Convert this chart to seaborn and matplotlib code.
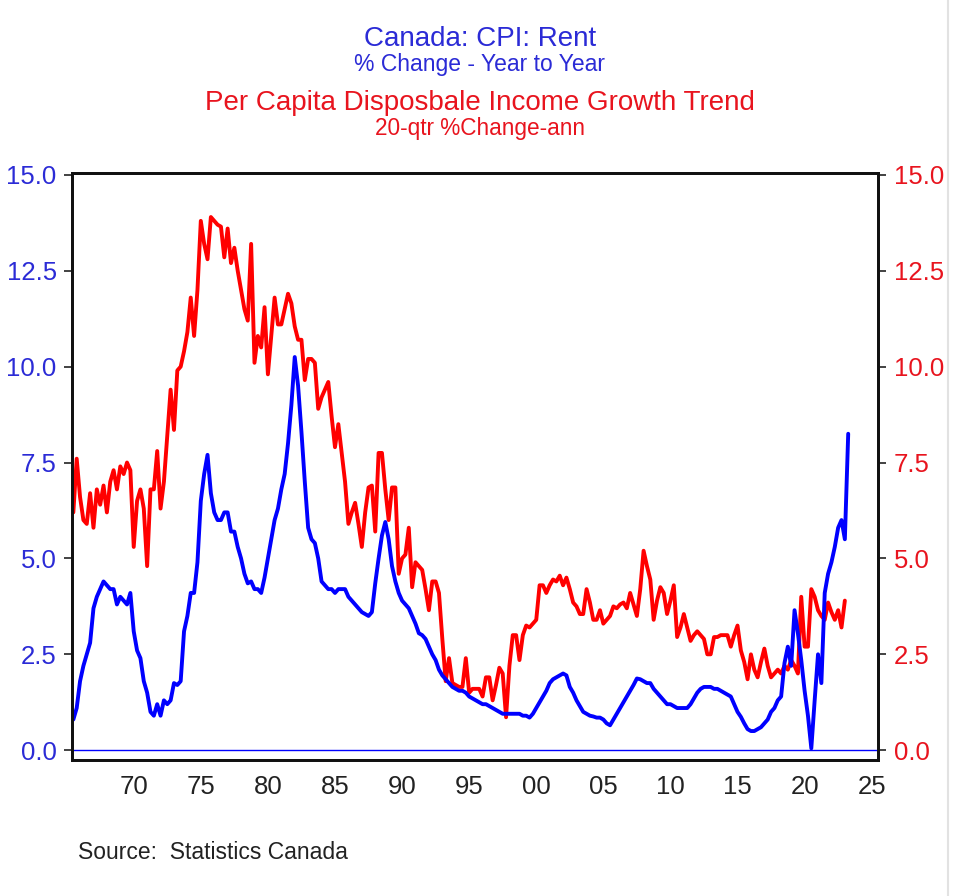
import numpy as np
import pandas as pd
import seaborn as sns
import matplotlib.pyplot as plt
import matplotlib.transforms as mtransforms
from matplotlib.lines import Line2D

# CPI rent, % change year to year (quarterly readings, 1966Q1 onward)
rent_values = [
    0.8, 1.1, 1.8, 2.2,      # 1966
    2.5, 2.8, 3.7, 4.0,      # 1967
    4.2, 4.4, 4.3, 4.2,      # 1968
    4.2, 3.8, 4.0, 3.9,      # 1969
    3.8, 4.1, 3.1, 2.6,      # 1970
    2.4, 1.8, 1.5, 1.0,      # 1971
    0.9, 1.2, 0.9, 1.3,      # 1972
    1.2, 1.3, 1.75, 1.7,     # 1973
    1.8, 3.1, 3.5, 4.1,      # 1974
    4.1, 4.9, 6.5, 7.2,      # 1975
    7.7, 6.7, 6.2, 6.0,      # 1976
    6.0, 6.2, 6.2, 5.7,      # 1977
    5.7, 5.3, 5.0, 4.6,      # 1978
    4.35, 4.4, 4.2, 4.2,     # 1979
    4.1, 4.5, 5.0, 5.5,      # 1980
    6.0, 6.3, 6.8, 7.2,      # 1981
    8.0, 9.0, 10.25, 9.5,    # 1982
    8.3, 7.0, 5.8, 5.5,      # 1983
    5.4, 5.0, 4.4, 4.3,      # 1984
    4.2, 4.2, 4.1, 4.2,      # 1985
    4.2, 4.2, 4.0, 3.9,      # 1986
    3.8, 3.7, 3.6, 3.55,     # 1987
    3.5, 3.6, 4.35, 5.0,     # 1988
    5.6, 5.95, 5.5, 4.8,     # 1989
    4.4, 4.1, 3.9, 3.8,      # 1990
    3.7, 3.5, 3.3, 3.05,     # 1991
    3.0, 2.9, 2.7, 2.5,      # 1992
    2.35, 2.1, 1.95, 1.85,   # 1993
    1.75, 1.65, 1.6, 1.55,   # 1994
    1.55, 1.5, 1.4, 1.35,    # 1995
    1.3, 1.25, 1.2, 1.2,     # 1996
    1.15, 1.1, 1.05, 1.0,    # 1997
    0.95, 0.95, 0.95, 0.95,  # 1998
    0.95, 0.95, 0.9, 0.9,    # 1999
    0.85, 0.95, 1.1, 1.25,   # 2000
    1.4, 1.55, 1.75, 1.85,   # 2001
    1.9, 1.95, 2.0, 1.95,    # 2002
    1.65, 1.5, 1.3, 1.15,    # 2003
    1.0, 0.95, 0.9, 0.88,    # 2004
    0.85, 0.85, 0.8, 0.7,    # 2005
    0.65, 0.8, 0.95, 1.1,    # 2006
    1.25, 1.4, 1.55, 1.7,    # 2007
    1.87, 1.85, 1.8, 1.75,   # 2008
    1.75, 1.6, 1.5, 1.4,     # 2009
    1.3, 1.2, 1.2, 1.15,     # 2010
    1.1, 1.1, 1.1, 1.1,      # 2011
    1.2, 1.35, 1.5, 1.6,     # 2012
    1.65, 1.65, 1.65, 1.6,   # 2013
    1.6, 1.55, 1.5, 1.45,    # 2014
    1.4, 1.2, 1.0, 0.87,     # 2015
    0.7, 0.55, 0.5, 0.5,     # 2016
    0.55, 0.6, 0.7, 0.8,     # 2017
    1.0, 1.1, 1.3, 1.4,      # 2018
    2.27, 2.7, 2.2, 3.65,    # 2019
    3.05, 2.35, 1.55, 0.9,   # 2020
    0.05, 1.3, 2.5, 1.75,    # 2021
    4.1, 4.6, 4.9, 5.3,      # 2022
    5.8, 6.0, 5.5, 8.25,     # 2023
]

# per capita disposable income growth trend, 20-qtr % change annualized
income_values = [
    6.2, 7.6, 6.6, 6.0,      # 1966
    5.9, 6.7, 5.8, 6.8,      # 1967
    6.4, 6.9, 6.2, 7.0,      # 1968
    7.3, 6.8, 7.4, 7.2,      # 1969
    7.5, 7.3, 5.3, 6.5,      # 1970
    6.8, 6.3, 4.8, 6.8,      # 1971
    6.8, 7.8, 6.3, 7.0,      # 1972
    8.2, 9.4, 8.35, 9.9,     # 1973
    10.0, 10.4, 10.9, 11.8,  # 1974
    10.8, 12.0, 13.8, 13.2,  # 1975
    12.8, 13.9, 13.8, 13.7,  # 1976
    13.65, 12.85, 13.6, 12.7,  # 1977
    13.1, 12.5, 12.0, 11.5,  # 1978
    11.2, 13.2, 10.1, 10.8,  # 1979
    10.5, 11.55, 9.8, 10.8,  # 1980
    11.8, 11.1, 11.1, 11.5,  # 1981
    11.9, 11.65, 11.05, 10.7,  # 1982
    10.7, 9.65, 10.2, 10.2,  # 1983
    10.1, 8.9, 9.2, 9.4,     # 1984
    9.6, 8.7, 7.9, 8.5,      # 1985
    7.75, 7.0, 5.9, 6.2,     # 1986
    6.45, 5.9, 5.3, 6.2,     # 1987
    6.85, 6.9, 5.7, 7.75,    # 1988
    7.75, 6.8, 6.0, 6.85,    # 1989
    6.85, 4.6, 5.0, 5.1,     # 1990
    5.8, 4.25, 4.9, 4.8,     # 1991
    4.7, 4.2, 3.65, 4.4,     # 1992
    4.4, 4.1, 2.9, 1.8,      # 1993
    2.4, 1.75, 1.7, 1.65,    # 1994
    1.65, 2.4, 1.5, 1.6,     # 1995
    1.6, 1.6, 1.4, 1.9,      # 1996
    1.9, 1.3, 1.7, 2.15,     # 1997
    2.0, 0.86, 2.2, 3.0,     # 1998
    3.0, 2.35, 3.0, 3.25,    # 1999
    3.2, 3.3, 3.4, 4.3,      # 2000
    4.3, 4.1, 4.3, 4.45,     # 2001
    4.4, 4.55, 4.3, 4.5,     # 2002
    4.2, 3.85, 3.75, 3.55,   # 2003
    3.55, 4.2, 3.85, 3.4,    # 2004
    3.4, 3.65, 3.3, 3.4,     # 2005
    3.5, 3.75, 3.7, 3.8,     # 2006
    3.85, 3.7, 4.1, 3.8,     # 2007
    3.5, 4.2, 5.2, 4.8,      # 2008
    4.45, 3.4, 3.9, 4.25,    # 2009
    4.1, 3.55, 3.9, 4.3,     # 2010
    2.95, 3.2, 3.55, 3.2,    # 2011
    2.85, 3.0, 3.1, 3.0,     # 2012
    2.9, 2.5, 2.5, 2.95,     # 2013
    2.95, 3.0, 3.0, 3.0,     # 2014
    2.7, 3.0, 3.25, 2.6,     # 2015
    2.3, 1.85, 2.5, 2.1,     # 2016
    1.9, 2.3, 2.65, 2.2,     # 2017
    1.9, 2.0, 2.1, 2.0,      # 2018
    2.2, 2.1, 2.35, 2.2,     # 2019
    2.0, 4.0, 2.7, 2.7,      # 2020
    4.2, 4.0, 3.65, 3.5,     # 2021
    3.4, 3.85, 3.6, 3.4,     # 2022
    3.65, 3.2, 3.9,          # 2023
]

rent_dates = 1966 + 0.25 * np.arange(len(rent_values))
income_dates = 1966 + 0.25 * np.arange(len(income_values))

year_ticks = list(range(1970, 2026, 5))
year_labels = ['70', '75', '80', '85', '90', '95', '00', '05', '10', '15', '20', '25']
y_ticks = [0.0, 2.5, 5.0, 7.5, 10.0, 12.5, 15.0]

rent = pd.DataFrame({'date': rent_dates, 'pct': rent_values})
income = pd.DataFrame({'date': income_dates, 'pct': income_values})

sns.set_style('white')
plt.rcParams['font.family'] = ['Liberation Sans', 'DejaVu Sans']

BLUE = '#0000ff'
RED = '#ff0000'
BLUE_TXT = '#2b2bd6'
RED_TXT = '#e8141e'

fig = plt.figure(figsize=(9.6, 8.96), dpi=100)
ax = fig.add_axes([0.075, 0.152, 0.840, 0.655])

sns.lineplot(data=income, x='date', y='pct', ax=ax, color=RED, linewidth=2.8)
sns.lineplot(data=rent, x='date', y='pct', ax=ax, color=BLUE, linewidth=2.8)
ax.axhline(0, color=BLUE, linewidth=1.0)

ax.set_xlim(1965.9, 2026.0)
ax.set_ylim(-0.25, 15.05)
ax.set_xlabel('')
ax.set_ylabel('')

ax.set_xticks(year_ticks)
ax.set_xticklabels(year_labels, fontsize=18.5, color='#222222')
ax.set_xticks(range(1966, 2026), minor=True)
ax.tick_params(axis='x', which='major', direction='out', length=8, width=1.2, color='#222222', pad=3)
ax.tick_params(axis='x', which='minor', direction='out', length=4, width=1.0, color='#222222')
# labels sit in the middle of the year, ticks at the start
shift = mtransforms.ScaledTranslation(6.7 / 100, 0, fig.dpi_scale_trans)
for lab in ax.get_xticklabels():
    lab.set_transform(lab.get_transform() + shift)

ax.set_yticks(y_ticks)
ax.set_yticklabels([f'{v:.1f}' for v in y_ticks], fontsize=18.5, color=BLUE_TXT)
ax.tick_params(axis='y', direction='out', length=6, width=1.2, color='#222222', pad=5)

ax2 = ax.twinx()
ax2.set_ylim(ax.get_ylim())
ax2.set_yticks(y_ticks)
ax2.set_yticklabels([f'{v:.1f}' for v in y_ticks], fontsize=18.5, color=RED_TXT)
ax2.tick_params(axis='y', direction='out', length=6, width=1.2, color='#222222', pad=5)

for a in (ax, ax2):
    for s in a.spines.values():
        s.set_color('#111111')
        s.set_linewidth(2.0)

fig.text(0.5, 0.957, 'Canada: CPI: Rent', ha='center', va='center', fontsize=20, color=BLUE_TXT)
fig.text(0.5, 0.928, '% Change - Year to Year', ha='center', va='center', fontsize=16.5, color=BLUE_TXT)
fig.text(0.5, 0.885, 'Per Capita Disposbale Income Growth Trend', ha='center', va='center', fontsize=20, color=RED_TXT)
fig.text(0.5, 0.857, '20-qtr %Change-ann', ha='center', va='center', fontsize=16.3, color=RED_TXT)
fig.text(0.081, 0.048, 'Source:  Statistics Canada', ha='left', va='center', fontsize=16.5, color='#222222')

fig.add_artist(Line2D([0.987, 0.987], [0, 1], color='#e2e2e2', linewidth=1.5))

fig.savefig('out.png', dpi=100, facecolor='white')
